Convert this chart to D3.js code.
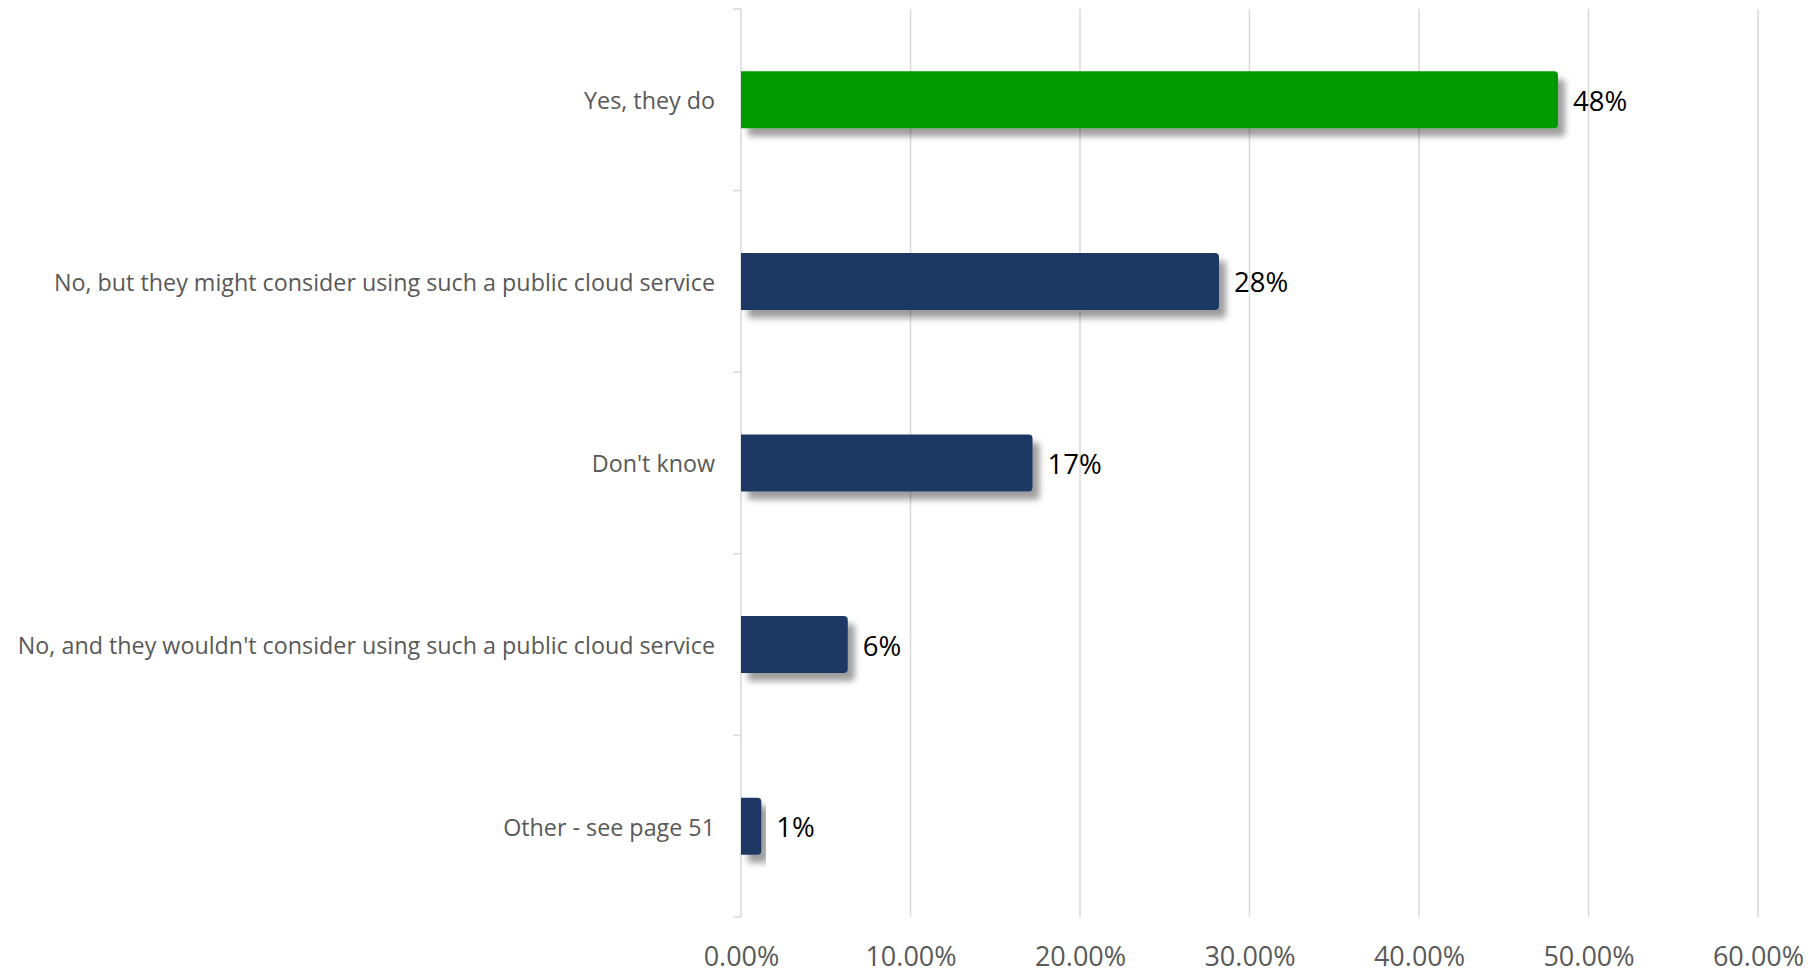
<!DOCTYPE html>
<html>
<head>
<meta charset="utf-8">
<script src="https://cdn.jsdelivr.net/npm/d3@7"></script>
<style>
html,body{margin:0;padding:0;background:#fff;}
svg{display:block;}
</style>
</head>
<body>
<svg id="chart" width="1820" height="974"></svg>
<script>
const categories = [
  "Yes, they do",
  "No, but they might consider using such a public cloud service",
  "Don't know",
  "No, and they wouldn't consider using such a public cloud service",
  "Other - see page 51"
];
const values = [48.2, 28.2, 17.2, 6.3, 1.2];
const valueLabels = ["48%", "28%", "17%", "6%", "1%"];
const barColors = ["#009900", "#1f3864", "#1f3864", "#1f3864", "#1f3864"];
const xTicks = [0, 10, 20, 30, 40, 50, 60];
const xTickLabels = ["0.00%", "10.00%", "20.00%", "30.00%", "40.00%", "50.00%", "60.00%"];

const svg = d3.select("#chart");
const margin = {left: 741, right: 62, top: 9, bottom: 57};
const W = 1820, H = 974;

const x = d3.scaleLinear().domain([0, 60]).range([margin.left, W - margin.right]);
const y = d3.scaleBand().domain(categories).range([margin.top, H - margin.bottom]).paddingInner(0.686).paddingOuter(0.343);
const yb = d3.scaleBand().domain(categories).range([margin.top, H - margin.bottom]);

const defs = svg.append("defs");
const f = defs.append("filter").attr("id", "shadow").attr("x", "-10%").attr("y", "-30%").attr("width", "130%").attr("height", "170%");
f.append("feDropShadow").attr("dx", 7).attr("dy", 8).attr("stdDeviation", 3).attr("flood-color", "#000").attr("flood-opacity", 0.38);

// gridlines
svg.append("g").selectAll("line").data(xTicks.slice(1)).join("line")
  .attr("x1", d => x(d)).attr("x2", d => x(d))
  .attr("y1", margin.top).attr("y2", H - margin.bottom)
  .attr("stroke", "#d9d9d9").attr("stroke-width", 1.5);

// left axis
const yAxis = d3.axisLeft(yb).tickSize(0).tickFormat("");
const ya = svg.append("g").attr("transform", `translate(${margin.left},0)`).call(yAxis);
ya.select(".domain").remove();
ya.append("line").attr("x1", 0).attr("x2", 0).attr("y1", margin.top).attr("y2", H - margin.bottom)
  .attr("stroke", "#d9d9d9").attr("stroke-width", 1.5);
const bounds = categories.map(c => yb(c)).concat([H - margin.bottom]);
ya.selectAll(".bnd").data(bounds).join("line").attr("class", "bnd")
  .attr("x1", -8).attr("x2", 0).attr("y1", d => d).attr("y2", d => d)
  .attr("stroke", "#d9d9d9").attr("stroke-width", 1.5);

// category labels
svg.append("g").selectAll("text").data(categories).join("text")
  .attr("x", margin.left - 26)
  .attr("y", d => yb(d) + yb.bandwidth() / 2)
  .attr("dy", "0.4em")
  .attr("text-anchor", "end")
  .attr("font-family", "Open Sans")
  .attr("font-size", 23.3)
  .attr("fill", "#595959")
  .text(d => d);

// bars
const r = 4;
function barPath(x0, x1, y0, h) {
  const rr = Math.min(r, (x1 - x0) / 2);
  return `M${x0},${y0}H${x1 - rr}Q${x1},${y0} ${x1},${y0 + rr}V${y0 + h - rr}Q${x1},${y0 + h} ${x1 - rr},${y0 + h}H${x0}Z`;
}
svg.append("g").selectAll("path").data(values).join("path")
  .attr("d", (d, i) => barPath(x(0), x(d), y(categories[i]), y.bandwidth()))
  .attr("fill", (d, i) => barColors[i])
  .attr("filter", "url(#shadow)");

// value labels
svg.append("g").selectAll("text").data(values).join("text")
  .attr("x", d => x(d) + 15)
  .attr("y", (d, i) => y(categories[i]) + y.bandwidth() / 2)
  .attr("dy", "0.4em")
  .attr("font-family", "Open Sans")
  .attr("font-size", 27.5)
  .attr("fill", "#000")
  .text((d, i) => valueLabels[i]);

// x axis labels
const xAxis = d3.axisBottom(x).tickValues(xTicks).tickSize(0).tickFormat((d, i) => xTickLabels[i]);
const xa = svg.append("g").attr("transform", `translate(0,${H - margin.bottom})`).call(xAxis);
xa.select(".domain").remove();
xa.selectAll("text")
  .attr("y", 49).attr("dy", 0)
  .attr("font-family", "Open Sans")
  .attr("font-size", 27)
  .attr("fill", "#595959");
</script>
</body>
</html>
